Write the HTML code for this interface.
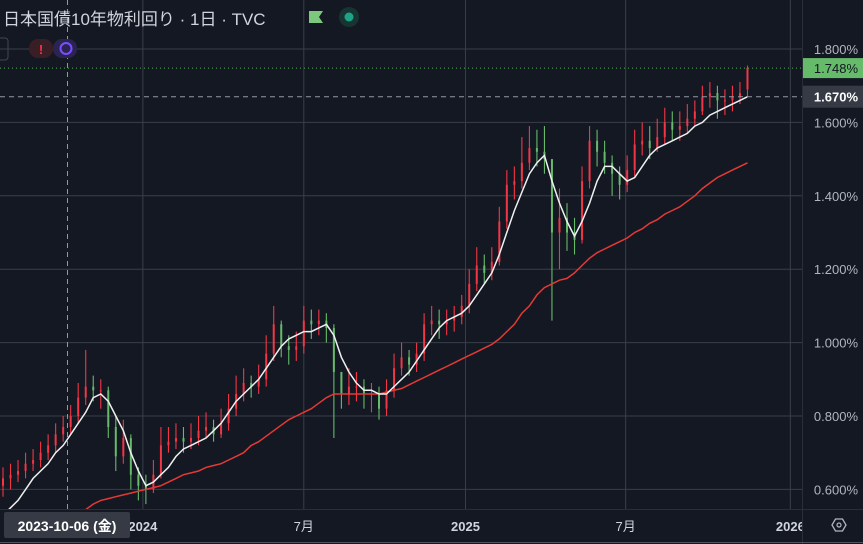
<!DOCTYPE html>
<html><head><meta charset="utf-8"><style>
html,body{margin:0;padding:0;background:#131722;width:863px;height:544px;overflow:hidden}
svg{display:block}
text{font-family:"Liberation Sans","Noto Sans CJK JP",sans-serif}
</style></head><body>
<svg id="c" width="863" height="544" xmlns="http://www.w3.org/2000/svg">
<rect x="0" y="0" width="863" height="544" fill="#141823"/>
<defs><clipPath id="plot"><rect x="0" y="0" width="802" height="509"/></clipPath></defs>
<g id="grid"></g>
<g id="marks" clip-path="url(#plot)"></g>
<g id="axis"></g>
</svg>
<script>
const yTicks=[1.8,1.6,1.4,1.2,1.0,0.8,0.6];
const xTickLabels=["2024","7月","2025","7月","2026"];
const xTickIdx=[18.6,40,61.5,82.8,104.7];
const closes=[0.63,0.64,0.65,0.67,0.68,0.70,0.72,0.75,0.77,0.80,0.85,0.88,0.87,0.87,0.77,0.69,0.74,0.64,0.61,0.60,0.64,0.72,0.73,0.74,0.73,0.74,0.76,0.77,0.75,0.78,0.82,0.86,0.89,0.88,0.90,0.97,1.05,0.99,0.98,0.99,1.06,1.05,1.06,1.04,0.92,0.86,0.88,0.88,0.86,0.86,0.82,0.87,0.93,0.96,0.94,0.97,1.05,1.06,1.05,1.06,1.07,1.10,1.16,1.21,1.19,1.22,1.33,1.43,1.44,1.49,1.53,1.52,1.50,1.30,1.34,1.30,1.28,1.44,1.55,1.52,1.49,1.46,1.43,1.47,1.54,1.55,1.53,1.56,1.60,1.58,1.59,1.61,1.63,1.67,1.68,1.66,1.66,1.67,1.68,1.748];
const opens=[0.61,0.63,0.64,0.65,0.67,0.68,0.70,0.72,0.75,0.77,0.80,0.85,0.88,0.87,0.87,0.77,0.69,0.74,0.64,0.61,0.60,0.64,0.72,0.73,0.74,0.73,0.74,0.76,0.77,0.75,0.78,0.82,0.86,0.89,0.88,0.90,0.97,1.05,0.99,0.98,0.99,1.06,1.05,1.06,1.04,0.92,0.86,0.88,0.88,0.86,0.86,0.82,0.87,0.93,0.96,0.94,0.97,1.05,1.06,1.05,1.06,1.07,1.10,1.16,1.21,1.19,1.22,1.33,1.43,1.44,1.49,1.53,1.52,1.50,1.30,1.34,1.30,1.28,1.44,1.55,1.52,1.49,1.46,1.43,1.47,1.54,1.55,1.53,1.56,1.60,1.58,1.59,1.61,1.63,1.67,1.68,1.66,1.66,1.67,1.69];
const highs=[0.66,0.67,0.68,0.70,0.71,0.73,0.75,0.78,0.80,0.83,0.89,0.98,0.91,0.90,0.88,0.80,0.79,0.75,0.66,0.64,0.68,0.77,0.77,0.78,0.77,0.78,0.80,0.81,0.79,0.82,0.86,0.91,0.93,0.91,0.94,1.02,1.10,1.06,1.02,1.03,1.10,1.09,1.09,1.08,1.05,0.92,0.93,0.92,0.90,0.89,0.88,0.90,0.97,1.00,0.98,1.00,1.08,1.10,1.09,1.09,1.10,1.13,1.20,1.26,1.24,1.26,1.37,1.47,1.48,1.56,1.59,1.58,1.59,1.50,1.42,1.38,1.34,1.48,1.59,1.58,1.55,1.51,1.48,1.51,1.58,1.60,1.59,1.61,1.64,1.63,1.63,1.65,1.66,1.70,1.71,1.70,1.69,1.70,1.71,1.755];
const lows=[0.58,0.60,0.62,0.63,0.65,0.66,0.68,0.70,0.73,0.75,0.78,0.83,0.84,0.82,0.74,0.65,0.67,0.60,0.57,0.56,0.59,0.63,0.70,0.71,0.70,0.71,0.72,0.74,0.73,0.74,0.76,0.80,0.84,0.85,0.86,0.88,0.95,0.96,0.94,0.95,0.97,1.01,1.02,1.00,0.74,0.82,0.83,0.84,0.82,0.81,0.79,0.80,0.85,0.91,0.91,0.92,0.95,1.02,1.01,1.02,1.03,1.05,1.08,1.14,1.16,1.17,1.21,1.31,1.39,1.42,1.47,1.48,1.46,1.06,1.20,1.25,1.24,1.27,1.42,1.48,1.46,1.40,1.39,1.41,1.45,1.51,1.50,1.52,1.54,1.55,1.55,1.57,1.59,1.62,1.64,1.61,1.62,1.63,1.65,1.67];
const maFast=[0.53,0.55,0.57,0.60,0.63,0.65,0.67,0.70,0.72,0.75,0.78,0.81,0.85,0.86,0.84,0.80,0.76,0.70,0.65,0.61,0.62,0.64,0.66,0.69,0.71,0.72,0.73,0.74,0.76,0.78,0.81,0.84,0.86,0.88,0.90,0.93,0.96,0.99,1.01,1.02,1.03,1.03,1.04,1.05,1.02,0.96,0.92,0.89,0.87,0.87,0.86,0.86,0.88,0.90,0.92,0.95,0.98,1.01,1.04,1.06,1.07,1.08,1.10,1.13,1.16,1.19,1.24,1.30,1.36,1.41,1.46,1.49,1.51,1.44,1.38,1.33,1.29,1.33,1.38,1.44,1.48,1.48,1.46,1.44,1.45,1.48,1.51,1.53,1.54,1.55,1.56,1.57,1.59,1.60,1.62,1.63,1.64,1.65,1.66,1.67];
const maSlow=[null,null,null,null,null,null,null,null,null,null,null,0.545,0.56,0.57,0.575,0.58,0.585,0.59,0.595,0.60,0.605,0.61,0.62,0.63,0.64,0.645,0.65,0.66,0.665,0.67,0.68,0.69,0.70,0.72,0.73,0.745,0.76,0.775,0.79,0.80,0.81,0.82,0.835,0.85,0.86,0.86,0.86,0.86,0.86,0.86,0.86,0.865,0.87,0.875,0.885,0.895,0.905,0.915,0.925,0.935,0.945,0.955,0.965,0.975,0.985,0.995,1.01,1.03,1.05,1.08,1.10,1.13,1.15,1.16,1.17,1.175,1.19,1.21,1.23,1.245,1.255,1.265,1.275,1.285,1.30,1.31,1.325,1.335,1.35,1.36,1.37,1.385,1.40,1.42,1.435,1.45,1.46,1.47,1.48,1.49];
const lastValue=1.748, prevClose=1.670;

const NS="http://www.w3.org/2000/svg";
const X=i=>3+i*7.52;
const Y=v=>49+(1.8-v)*367;
function mk(tag,attrs,parent){const e=document.createElementNS(NS,tag);for(const k in attrs)e.setAttribute(k,attrs[k]);parent.appendChild(e);return e;}
const grid=document.getElementById('grid'),marks=document.getElementById('marks'),axis=document.getElementById('axis'),svg=document.getElementById('c');

yTicks.forEach(v=>{
 const l=mk('line',{x1:0,x2:802,y1:Y(v),y2:Y(v),stroke:'#3a3e4a','stroke-width':1},grid);
 
 
 const t=mk('text',{x:858,y:Y(v)+5,'text-anchor':'end','font-size':13,fill:'#b2b5be'},axis);
 t.textContent=v.toFixed(3)+'%';
 
 
});
xTickIdx.forEach((xi,k)=>{
 const x=X(xi);
 const l=mk('line',{x1:x,x2:x,y1:0,y2:509,stroke:'#3a3e4a','stroke-width':1},grid);
 
 
 const t=mk('text',{x:x,y:531,'text-anchor':'middle','font-size':13,'font-weight':xTickLabels[k].length===4?'bold':'normal',fill:'#d1d4dc'},axis);
 t.textContent=xTickLabels[k];
 
 
});

closes.forEach((c,i)=>{
 const o=opens[i],up=c>=o,x=X(i);
 const col=up?'#f23645':'#66bb6a';
 const w=mk('line',{x1:x,x2:x,y1:Y(highs[i]),y2:Y(lows[i]),stroke:col,'stroke-width':1.1},marks);
 
 
 const top=Y(Math.max(o,c)),h=Math.max(1,Math.abs(Y(o)-Y(c)));
 const b=mk('rect',{x:x-1,y:top,width:2,height:h,fill:col},marks);
 
 
});
function line(arr,color,name,w){
 let d='';arr.forEach((v,i)=>{if(v==null)return;d+=(d?'L':'M')+X(i).toFixed(1)+','+Y(v).toFixed(1);});
 const p=mk('path',{d:d,fill:'none',stroke:color,'stroke-width':w},marks);
 
 
}
line(maSlow,'#e53935','ma-slow-line',1.5);
line(maFast,'#f0f0f0','ma-fast-line',1.5);

let pl=mk('line',{x1:0,x2:802,y1:Y(lastValue),y2:Y(lastValue),stroke:'#4caf50','stroke-dasharray':'1,3','stroke-width':1},svg);


pl=mk('line',{x1:0,x2:802,y1:Y(prevClose),y2:Y(prevClose),stroke:'#9598a1','stroke-dasharray':'5,4','stroke-width':1},svg);


let r=mk('rect',{x:803,y:Y(lastValue)-10,width:60,height:20,fill:'#66bb6a'},svg);


let t=mk('text',{x:858,y:Y(lastValue)+5,'text-anchor':'end','font-size':13,fill:'#131722'},svg);t.textContent=lastValue.toFixed(3)+'%';


r=mk('rect',{x:803,y:Y(prevClose)-11,width:60,height:22,fill:'#363a45'},svg);


t=mk('text',{x:858,y:Y(prevClose)+5,'text-anchor':'end','font-size':13,'font-weight':'bold',fill:'#ffffff'},svg);t.textContent=prevClose.toFixed(3)+'%';


</script>
<svg width="863" height="544" style="position:absolute;left:0;top:0" xmlns="http://www.w3.org/2000/svg">
<line x1="802.5" y1="0" x2="802.5" y2="544" stroke="#2a2e39"/>
<line x1="0" y1="509.5" x2="863" y2="509.5" stroke="#2a2e39"/>
<line x1="0" y1="542.5" x2="863" y2="542.5" stroke="#50535e"/>
<line x1="67.5" y1="0" x2="67.5" y2="509" stroke="#9598a1" stroke-dasharray="5,4"/>
<text x="3" y="25" font-size="17" fill="#d1d4dc">日本国債10年物利回り · 1日 · TVC</text>
<path d="M309 11 H323 L319 17 L323 23 H309 Z" fill="#7ec87e"/>
<circle cx="349" cy="17" r="10" fill="#173432"/>
<circle cx="349" cy="17" r="4.5" fill="#1ea387"/>
<rect x="-6" y="38" width="14" height="22" rx="3" fill="none" stroke="#434651"/>
<rect x="29" y="39" width="24" height="19" rx="9" fill="#3a1e26"/>
<text x="41" y="54" font-size="13" font-weight="bold" fill="#f23645" text-anchor="middle">!</text>
<rect x="53" y="39" width="24" height="19" rx="9" fill="#2a2450"/>
<circle cx="66" cy="48.5" r="5.5" fill="none" stroke="#7b4dff" stroke-width="2"/>
<rect x="4" y="512" width="126" height="26" rx="2" fill="#363a45"/>
<text x="67" y="531" font-size="14" font-weight="bold" fill="#ffffff" text-anchor="middle">2023-10-06 (金)</text>
<rect x="803" y="510" width="60" height="32" fill="#141823"/>
<polygon points="832,525 835.5,519 842.5,519 846,525 842.5,531 835.5,531" fill="none" stroke="#b2b5be" stroke-width="1.3"/>
<circle cx="839" cy="525" r="2" fill="none" stroke="#b2b5be" stroke-width="1.2"/>
</svg>
</body></html>
